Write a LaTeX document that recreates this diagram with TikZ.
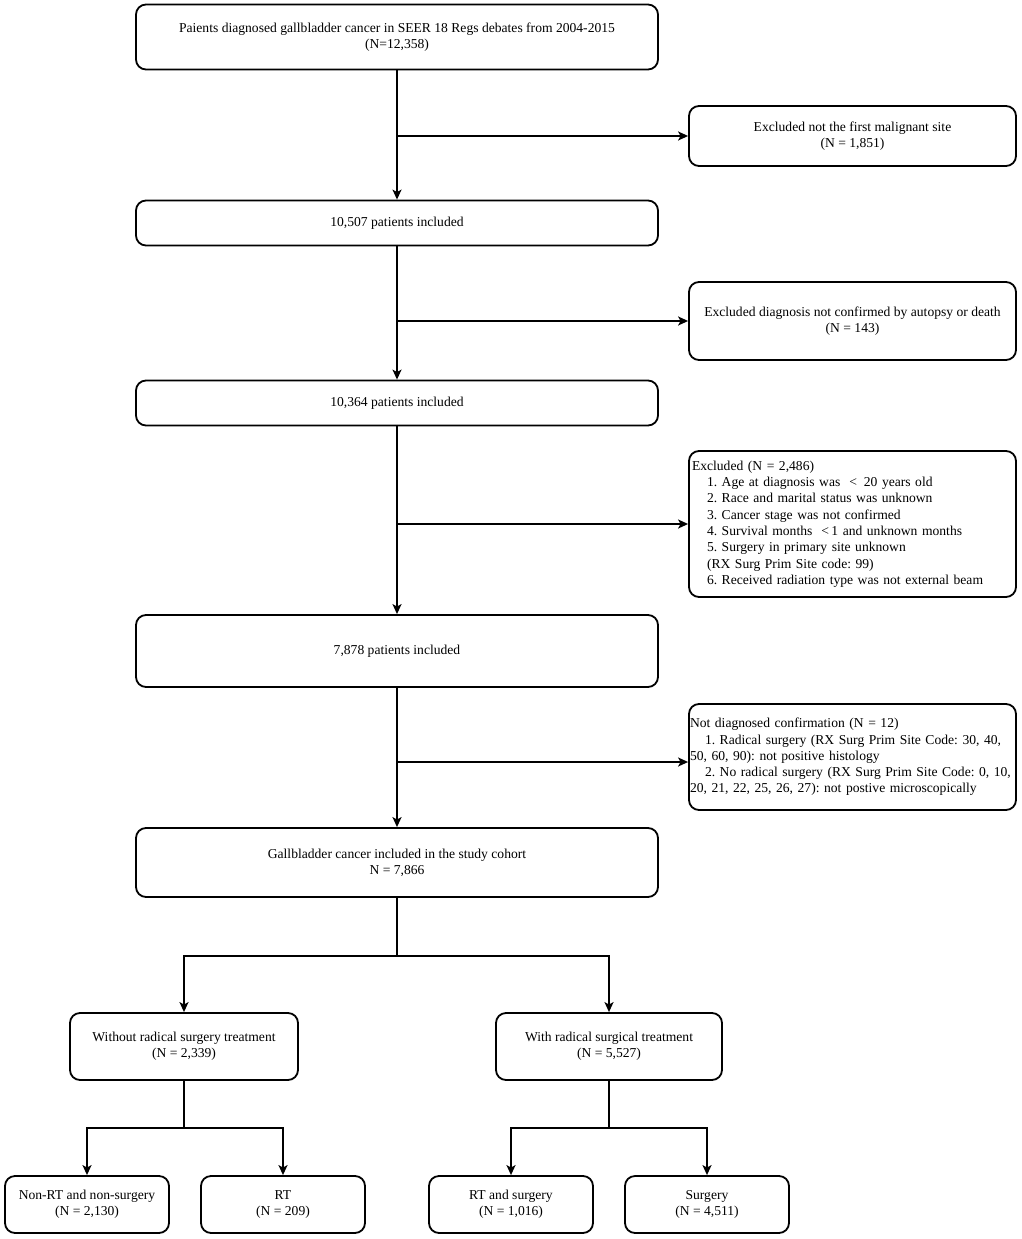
\documentclass[tikz,border=0pt]{standalone}
\usepackage{fontspec}
\setmainfont{Liberation Serif}
\usetikzlibrary{arrows.meta,calc}
\frenchspacing
\begin{document}
\begin{tikzpicture}[x=1pt,y=-1pt,
  box/.style={draw,line width=1.8pt,rounded corners=10pt,align=center,inner sep=3pt,font=\fontsize{13.6}{16.3}\selectfont},
  arr/.style={line width=1.8pt,-{Stealth[length=10pt,width=9pt,inset=2.5pt]}},
  ln/.style={line width=1.8pt}]
\useasboundingbox (0,0) rectangle (1021,1239);
\node[box,minimum width=522,minimum height=65] (top) at (397,37) {Paients diagnosed gallbladder cancer in SEER 18 Regs debates from 2004-2015\\(N=12,358)};
\node[box,minimum width=327,minimum height=60] (ex1) at (852.5,136) {Excluded not the first malignant site\\(N = 1,851)};
\node[box,minimum width=522,minimum height=45] (n2) at (397,223) {10,507 patients included};
\node[box,minimum width=327,minimum height=78] (ex2) at (852.5,321) {Excluded diagnosis not confirmed by autopsy or death\\(N = 143)};
\node[box,minimum width=522,minimum height=45] (n3) at (397,403) {10,364 patients included};
\node[box,align=left,text width=321,minimum width=327,minimum height=146] (ex3) at (852.5,524) {Excluded (N = 2,486)\\
\hspace*{15pt}1. Age at diagnosis was \ <\ \,20 years old\\
\hspace*{15pt}2. Race and marital status was unknown\\
\hspace*{15pt}3. Cancer stage was not confirmed\\
\hspace*{15pt}4. Survival months \ <\,1 and unknown months\\
\hspace*{15pt}5. Surgery in primary site unknown\\
\hspace*{15pt}(RX Surg Prim Site code: 99)\\
\hspace*{15pt}6. Received radiation type was not external beam};
\node[box,minimum width=522,minimum height=72] (n4) at (397,651) {7,878 patients included};
\node[box,align=left,text width=325,inner xsep=1pt,minimum width=327,minimum height=106] (ex4) at (852.5,757) {Not diagnosed confirmation (N = 12)\\
\hspace*{15pt}1. Radical surgery (RX Surg Prim Site Code: 30, 40,\\
50, 60, 90): not positive histology\\
\hspace*{15pt}2. No radical surgery (RX Surg Prim Site Code: 0, 10,\\
20, 21, 22, 25, 26, 27): not postive microscopically};
\node[box,minimum width=522,minimum height=69] (gc) at (397,862.5) {Gallbladder cancer included in the study cohort\\N = 7,866};
\node[box,minimum width=228,minimum height=67] (wo) at (184,1046.5) {Without radical surgery treatment\\(N = 2,339)};
\node[box,minimum width=226,minimum height=67] (wi) at (609,1046.5) {With radical surgical treatment\\(N = 5,527)};
\node[box,minimum width=164,minimum height=57] (nr) at (87,1204.5) {Non-RT and non-surgery\\(N = 2,130)};
\node[box,minimum width=164,minimum height=57] (rt) at (283,1204.5) {RT\\(N = 209)};
\node[box,minimum width=164,minimum height=57] (rs) at (511,1204.5) {RT and surgery\\(N = 1,016)};
\node[box,minimum width=164,minimum height=57] (su) at (707,1204.5) {Surgery\\(N = 4,511)};
% trunk
\draw[arr] (top.south) -- (top.south |- n2.north);
\draw[arr] (top.south |- ex1.west) -- (ex1.west);
\draw[arr] (top.south |- n2.south) -- (top.south |- n3.north);
\draw[arr] (top.south |- ex2.west) -- (ex2.west);
\draw[arr] (top.south |- n3.south) -- (top.south |- n4.north);
\draw[arr] (top.south |- ex3.west) -- (ex3.west);
\draw[arr] (top.south |- n4.south) -- (top.south |- gc.north);
\draw[arr] (top.south |- 0,762) coordinate (j4) -- (j4 -| ex4.west);
% split
\coordinate (s0) at ($(gc.south)+(0,58)$);
\draw[ln] (gc.south) -- (s0);
\draw[arr] (s0) -| (wo.north);
\draw[arr] (s0) -| (wi.north);
\coordinate (s1) at ($(wo.south)+(0,47)$);
\draw[ln] (wo.south) -- (s1);
\draw[arr] (s1) -| (nr.north);
\draw[arr] (s1) -| (rt.north);
\coordinate (s2) at ($(wi.south)+(0,47)$);
\draw[ln] (wi.south) -- (s2);
\draw[arr] (s2) -| (rs.north);
\draw[arr] (s2) -| (su.north);
\end{tikzpicture}
\end{document}
